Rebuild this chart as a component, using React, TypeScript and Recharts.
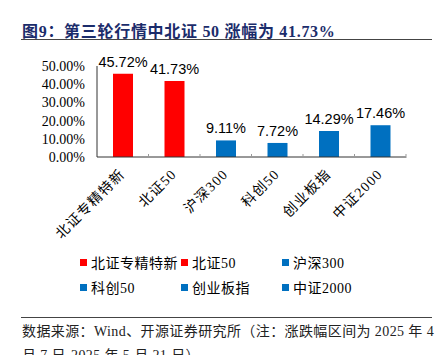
import React from 'react';
import { BarChart, Bar, XAxis, YAxis, Cell, LabelList } from 'recharts';

const categories = ['北证专精特新', '北证50', '沪深300', '科创50', '创业板指', '中证2000'];
const changes = [45.72, 41.73, 9.11, 7.72, 14.29, 17.46];
const barColors = ['#FF0000', '#FF0000', '#0070C0', '#0070C0', '#0070C0', '#0070C0'];
const yTicks = [0, 10, 20, 30, 40, 50];

const CHART_W = 441;
const CHART_H = 250;
const PLOT_LEFT = 97;
const PLOT_RIGHT = 406;
const bandW = (PLOT_RIGHT - PLOT_LEFT) / categories.length;

const SERIF = '"Liberation Serif", "Noto Sans CJK SC", serif';

const XTick = (props: any) => {
  const { x, y, payload } = props;
  const tx = x + 3;
  const ty = y + 16;
  return (
    <g>
      <line x1={x + bandW / 2} x2={x + bandW / 2} y1={y - 1} y2={y - 5} stroke="#999" strokeWidth={1} />
      <text
        x={tx}
        y={ty}
        textAnchor="end"
        fontSize={14}
        fontFamily={SERIF}
        letterSpacing={1.2}
        fill="#000"
        transform={`rotate(-45 ${tx} ${ty})`}
      >
        {payload.value}
      </text>
    </g>
  );
};

const legendRows = [
  [0, 1, 2],
  [3, 4, 5],
];
const legendX = [80, 181, 282];

export default function App() {
  const data = categories.map((c, i) => ({ name: c, value: changes[i] }));

  return (
    <div style={{ position: 'absolute', left: 0, top: 0, width: 441, height: 355, overflow: 'hidden', background: '#fff' }}>
      <div
        style={{
          position: 'absolute',
          left: 22,
          top: 18,
          fontFamily: SERIF,
          fontWeight: 'bold',
          fontSize: 16,
          color: '#1B2C6B',
          whiteSpace: 'nowrap',
          letterSpacing: 0.7,
        }}
      >
        图9：第三轮行情中北证 50 涨幅为 41.73%
      </div>
      <div style={{ position: 'absolute', left: 21, top: 39, width: 411, height: 1, background: '#444' }} />

      <div style={{ position: 'absolute', left: 0, top: 0 }}>
        <BarChart width={CHART_W} height={CHART_H} data={data} margin={{ top: 66, right: CHART_W - PLOT_RIGHT, left: 0, bottom: 0 }}>
          <XAxis
            dataKey="name"
            height={93}
            interval={0}
            tickLine={false}
            tickSize={0}
            axisLine={{ stroke: '#333' }}
            tick={<XTick />}
          />
          <YAxis
            width={PLOT_LEFT}
            domain={[0, 50]}
            ticks={yTicks}
            interval={0}
            tickLine={false}
            tickSize={4}
            tickMargin={8}
            axisLine={{ stroke: '#333' }}
            tickFormatter={(v: number) => `${v.toFixed(2)}%`}
            tick={{ fontSize: 14, fontFamily: SERIF, fill: '#000' }}
          />
          <Bar dataKey="value" barSize={20} isAnimationActive={false}>
            {data.map((d, i) => (
              <Cell key={d.name} fill={barColors[i]} />
            ))}
            <LabelList
              dataKey="value"
              position="top"
              offset={7}
              formatter={(v: any) => `${Number(v).toFixed(2)}%`}
              style={{ fontSize: 14.5, fontFamily: '"Liberation Sans", sans-serif', fill: '#000' }}
            />
          </Bar>
        </BarChart>
      </div>

      {legendRows.map((row, r) =>
        row.map((idx, k) => (
          <div
            key={idx}
            style={{
              position: 'absolute',
              left: legendX[k],
              top: 252 + r * 25,
              display: 'flex',
              alignItems: 'center',
              fontFamily: SERIF,
              fontSize: 14,
              color: '#000',
              whiteSpace: 'nowrap',
              letterSpacing: 0.5,
            }}
          >
            <span style={{ display: 'inline-block', width: 7, height: 7, background: barColors[idx], marginRight: 4 }} />
            {categories[idx]}
          </div>
        ))
      )}

      <div style={{ position: 'absolute', left: 21, top: 317, width: 411, height: 1, background: '#444' }} />
      <div
        style={{
          position: 'absolute',
          left: 22,
          top: 320,
          width: 415,
          fontFamily: SERIF,
          fontSize: 14,
          lineHeight: '24px',
          color: '#222',
          letterSpacing: 0.4,
        }}
      >
        数据来源：Wind、开源证券研究所（注：涨跌幅区间为 2025 年 4 月 7 日-2025 年 5 月 21 日）
      </div>
    </div>
  );
}
